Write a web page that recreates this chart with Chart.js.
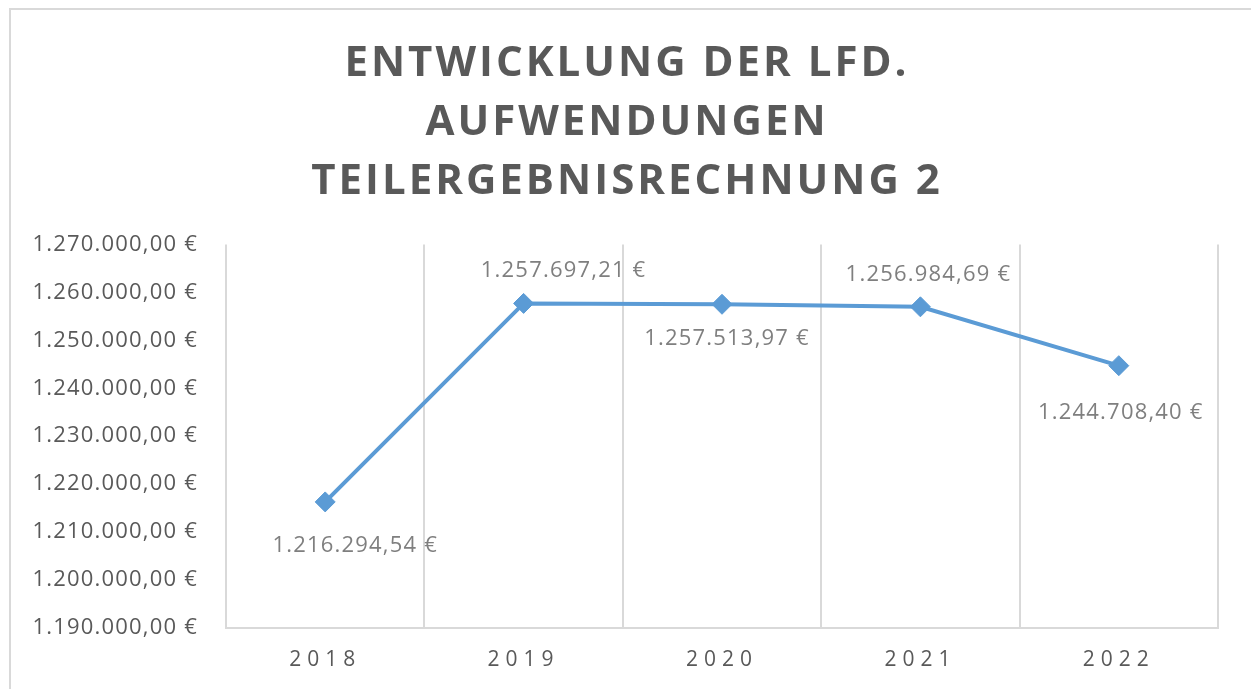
<!DOCTYPE html>
<html>
<head>
<meta charset="utf-8">
<script src="https://cdn.jsdelivr.net/npm/chart.js@4"></script>
<style>
    html, body { margin: 0; padding: 0; background: #fff; overflow: hidden; }
    #wrap { position: relative; width: 1251px; height: 689px; }
    #frame { position: absolute; left: 9px; top: 8px; width: 1300px; height: 740px; border: 2px solid #d9d9d9; pointer-events: none; }
</style>
</head>
<body>
<div id="wrap">
    <canvas id="lineChart" width="1251" height="689"></canvas>
    <div id="frame"></div>
</div>
<script>
// Daten
const years = ["2018", "2019", "2020", "2021", "2022"];
const aufwendungen = [1216294.54, 1257697.21, 1257513.97, 1256984.69, 1244708.40];
const titleLines = ["ENTWICKLUNG DER LFD.", "AUFWENDUNGEN", "TEILERGEBNISRECHNUNG 2"];
const yMin = 1190000;
const yMax = 1270000;
const yStep = 10000;

// Lage der Datenbeschriftungen relativ zum Punkt (dx, dy)
const labelOffsets = [[30, 44], [40, -33], [5, 34], [8, -32], [2, 47]];

const euro = (v) => {
    const [i, d] = Math.abs(v).toFixed(2).split(".");
    return i.replace(/\B(?=(\d{3})+(?!\d))/g, ".") + "," + d + " €";
}

// Buchstabenabstand für Titel und Achsen
const spacingPlugin = {
    id: "spacing",
    beforeDraw(chart) {
        const ctx = chart.ctx;
        const wrap = (obj, fn, sp, shiftX = 0) => {
            if (!obj || obj["_wrapped_" + fn]) return;
            const orig = obj[fn].bind(obj);
            obj[fn] = function (...args) {
                ctx.save();
                ctx.letterSpacing = sp;
                ctx.translate(shiftX, 0);
                orig(...args);
                ctx.restore();
            };
            obj["_wrapped_" + fn] = true;
        };
        // Titel über die ganze Breite zentrieren (rechter Rand kommt aus dem Layout-Padding)
        wrap(chart.titleBlock, "draw", "3px", 18);
        wrap(chart.scales.x, "drawLabels", "6px");
        wrap(chart.scales.y, "drawLabels", "1.2px");
    }
};

// Datenbeschriftungen
const valueLabels = {
    id: "valueLabels",
    afterDatasetsDraw(chart) {
        const ctx = chart.ctx;
        const meta = chart.getDatasetMeta(0);
        ctx.save();
        ctx.font = "22px 'Open Sans'";
        ctx.letterSpacing = "1.2px";
        ctx.fillStyle = "#7f7f7f";
        ctx.textAlign = "center";
        ctx.textBaseline = "middle";
        meta.data.forEach((pt, i) => {
            const [dx, dy] = labelOffsets[i];
            ctx.fillText(euro(aufwendungen[i]), pt.x + dx, pt.y + dy);
        });
        ctx.restore();
    }
};

const ctxLine = document.getElementById("lineChart").getContext("2d");
new Chart(ctxLine, {
    type: "line",
    data: {
        labels: years,
        datasets: [{
            label: "Aufwendungen",
            data: aufwendungen,
            borderColor: "#5b9bd5",
            backgroundColor: "#5b9bd5",
            borderWidth: 4,
            pointStyle: "rectRot",
            pointRadius: 10,
            pointBorderWidth: 1,
            pointHoverRadius: 10,
            tension: 0
        }]
    },
    plugins: [spacingPlugin, valueLabels],
    options: {
        responsive: false,
        animation: false,
        layout: { padding: { left: 0, right: 33, top: 0, bottom: 0 } },
        plugins: {
            legend: { display: false },
            tooltip: { enabled: false },
            title: {
                display: true,
                text: titleLines,
                color: "#595959",
                font: { family: "'Open Sans'", size: 42, weight: "bold", lineHeight: 1.4 },
                padding: { top: 35, bottom: 33 }
            }
        },
        scales: {
            x: {
                offset: true,
                grid: { display: true, offset: true, color: "#d9d9d9", lineWidth: 2, drawTicks: false },
                border: { display: true, color: "#d9d9d9", width: 2 },
                ticks: { color: "#595959", font: { family: "'Open Sans'", size: 21 }, padding: 19 },
                afterFit: (scale) => { scale.height = 61; }
            },
            y: {
                min: yMin,
                max: yMax,
                grid: { display: false, drawTicks: false },
                border: { display: false },
                ticks: {
                    stepSize: yStep,
                    color: "#595959",
                    font: { family: "'Open Sans'", size: 22 },
                    padding: 28,
                    callback: (v) => euro(v)
                },
                afterFit: (scale) => { scale.width = 226; }
            }
        }
    }
});
</script>
</body>
</html>
